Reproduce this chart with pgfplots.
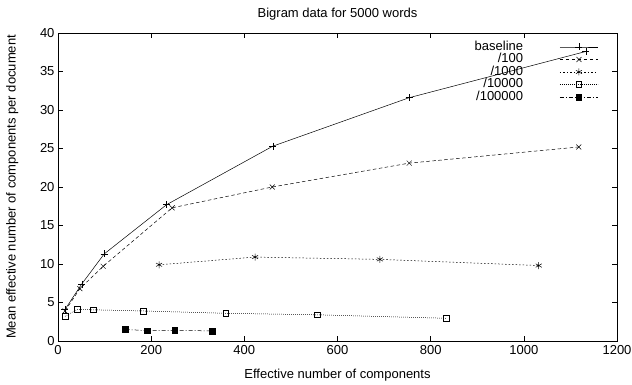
\documentclass[border=0pt]{standalone}
\usepackage{fontspec}
\setmainfont{Liberation Sans}
\usepackage{pgfplots}
\pgfplotsset{compat=1.18}
\begin{document}
\begin{tikzpicture}
\begin{axis}[
  name=ax,
  scale only axis, width=559bp, height=308bp,
  xmin=0, xmax=1200, ymin=0, ymax=40,
  xtick={0,200,...,1200}, ytick={0,5,...,40},
  tick align=inside, major tick length=5bp,
  tick style={black, line width=0.5pt},
  axis line style={line width=0.6pt},
  font=\fontsize{13bp}{15bp}\selectfont,
  /pgf/number format/assume math mode=true,
  /pgf/number format/1000 sep={},
  xticklabel style={yshift=-1bp},
  title={Bigram data for 5000 words},
  title style={at={(axis description cs:0.5,1.042)}, anchor=center},
  xlabel={Effective number of components},
  xlabel style={at={(axis description cs:0.5,-0.110)}, anchor=center},
  ylabel={Mean effective number of components per document},
  ylabel style={at={(axis description cs:-0.082,0.5)}, anchor=center, rotate=0},
  legend style={draw=none, fill=none, at={(axis description cs:0.972,0.982)}, anchor=north east,
    legend cell align=right, row sep=0bp, font=\fontsize{13bp}{15bp}\selectfont,
    nodes={inner sep=0.5bp, text height=9bp, text depth=2.5bp}},
  legend plot pos=right,
  legend image code/.code={\path (0bp,0bp); \draw[mark repeat=2,mark phase=2,#1] plot coordinates {(36bp,0bp) (55bp,0bp) (74bp,0bp)};},
  every axis plot/.append style={black, line width=0.5pt, mark size=3.5bp},
]
\addplot[solid, mark=+, mark options={solid}] coordinates {
(15,4.1) (51,7.4) (99,11.3) (233,17.7) (461,25.3) (754,31.6) (1133,37.6)};
\addlegendentry{baseline}
\addplot[dash pattern=on 3.5bp off 2.5bp, mark=x, mark options={solid}, mark size=3.5bp] coordinates {
(15,3.9) (47,6.8) (97,9.7) (245,17.3) (460,20.0) (754,23.1) (1118,25.2)};
\addlegendentry{/100}
\addplot[dash pattern=on 1.5bp off 2bp, mark=asterisk, mark options={solid}, mark size=3.5bp] coordinates {
(217,9.9) (423,10.9) (691,10.6) (1032,9.8)};
\addlegendentry{/1000}
\addplot[dash pattern=on 0.8bp off 1.2bp, mark=square, mark options={solid}, mark size=2.8bp] coordinates {
(15,3.2) (41,4.1) (76,4.05) (183,3.9) (360,3.6) (557,3.4) (834,2.95)};
\addlegendentry{/10000}
\addplot[dash pattern=on 4bp off 2bp on 1bp off 2bp, mark=square*, mark options={solid}, mark size=2.8bp] coordinates {
(145,1.5) (192,1.35) (251,1.4) (331,1.3)};
\addlegendentry{/100000}
\end{axis}
\pgfresetboundingbox
\path (ax.south west) ++(-58bp,-44bp) rectangle ++(632bp,385bp);
\end{tikzpicture}
\end{document}
